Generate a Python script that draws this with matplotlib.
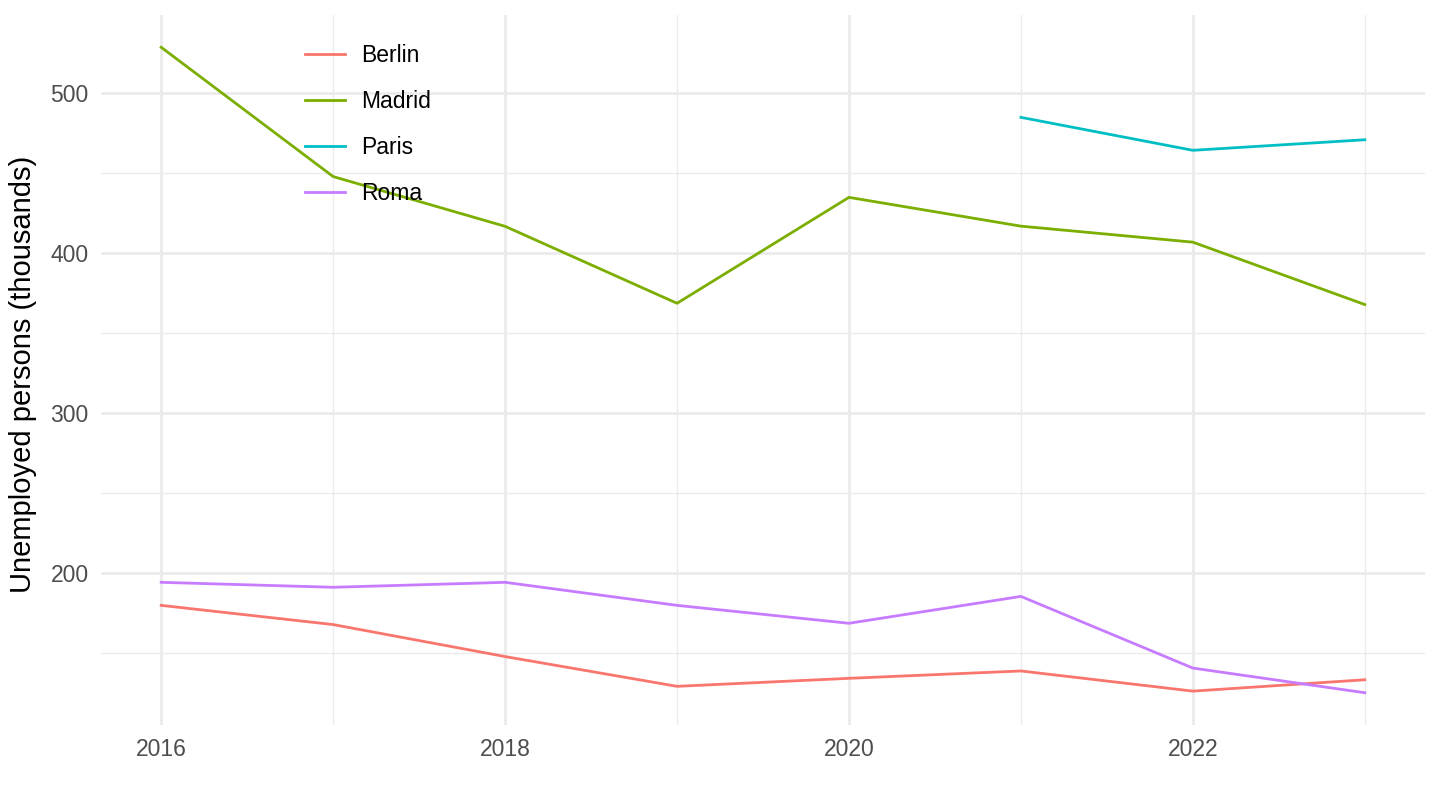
import numpy as np
import matplotlib
matplotlib.use("Agg")
import matplotlib.pyplot as plt
from matplotlib.ticker import MultipleLocator

# ------------------ Datos ------------------
years = [2016, 2017, 2018, 2019, 2020, 2021, 2022, 2023]
berlin = [180, 168, 148, 129.4, 134.4, 139, 126.4, 133.5]
madrid = [528.8, 448, 416.9, 368.8, 435, 417, 407, 368]
paris_years = [2021, 2022, 2023]
paris = [485, 464.4, 471]
roma = [194.4, 191.3, 194.4, 180, 168.8, 185.6, 140.8, 125.4]

colors = {"Berlin": "#F8766D", "Madrid": "#7CAE00", "Paris": "#00BFC4", "Roma": "#C77CFF"}

plt.rcParams['font.family'] = ['Liberation Sans', 'DejaVu Sans']

fig = plt.figure(figsize=(14.4, 8.1), dpi=100)
ax = fig.add_axes([101/1440, 1 - 725/810, (1425-101)/1440, (725-15)/810])

lw = 2.0
ax.plot(years, berlin, color=colors["Berlin"], lw=lw, label="Berlin")
ax.plot(years, madrid, color=colors["Madrid"], lw=lw, label="Madrid")
ax.plot(paris_years, paris, color=colors["Paris"], lw=lw, label="Paris")
ax.plot(years, roma, color=colors["Roma"], lw=lw, label="Roma")

# escalas tipo ggplot (expansion 5%)
ax.set_xlim(2015.65, 2023.35)
lo, hi = 125.4, 528.8
pad = (hi - lo) * 0.05
ax.set_ylim(lo - pad, hi + pad)

ax.xaxis.set_major_locator(MultipleLocator(2))
ax.xaxis.set_minor_locator(MultipleLocator(1))
ax.yaxis.set_major_locator(MultipleLocator(100))
ax.yaxis.set_minor_locator(MultipleLocator(50))

ax.grid(which="major", color="#EBEBEB", lw=2.0)
ax.grid(which="minor", color="#EBEBEB", lw=1.0)
ax.set_axisbelow(True)
for s in ax.spines.values():
    s.set_visible(False)
ax.tick_params(which="both", length=0, labelsize=16.5, colors="#4D4D4D")
ax.tick_params(axis="x", pad=9.5)
ax.tick_params(axis="y", pad=9)

ax.set_ylabel("Unemployed persons (thousands)", fontsize=21, color="black")
ax.yaxis.set_label_coords(-0.0483, (810 - 374 - 85) / 710)

ax.legend(loc="upper left", bbox_to_anchor=(305/1440, 1 - 44/810), bbox_transform=fig.transFigure,
          frameon=False, fontsize=16.5, handlelength=1.75, handletextpad=0.7,
          labelspacing=1.0, borderpad=0, borderaxespad=0)

fig.savefig("out.png", dpi=100)
